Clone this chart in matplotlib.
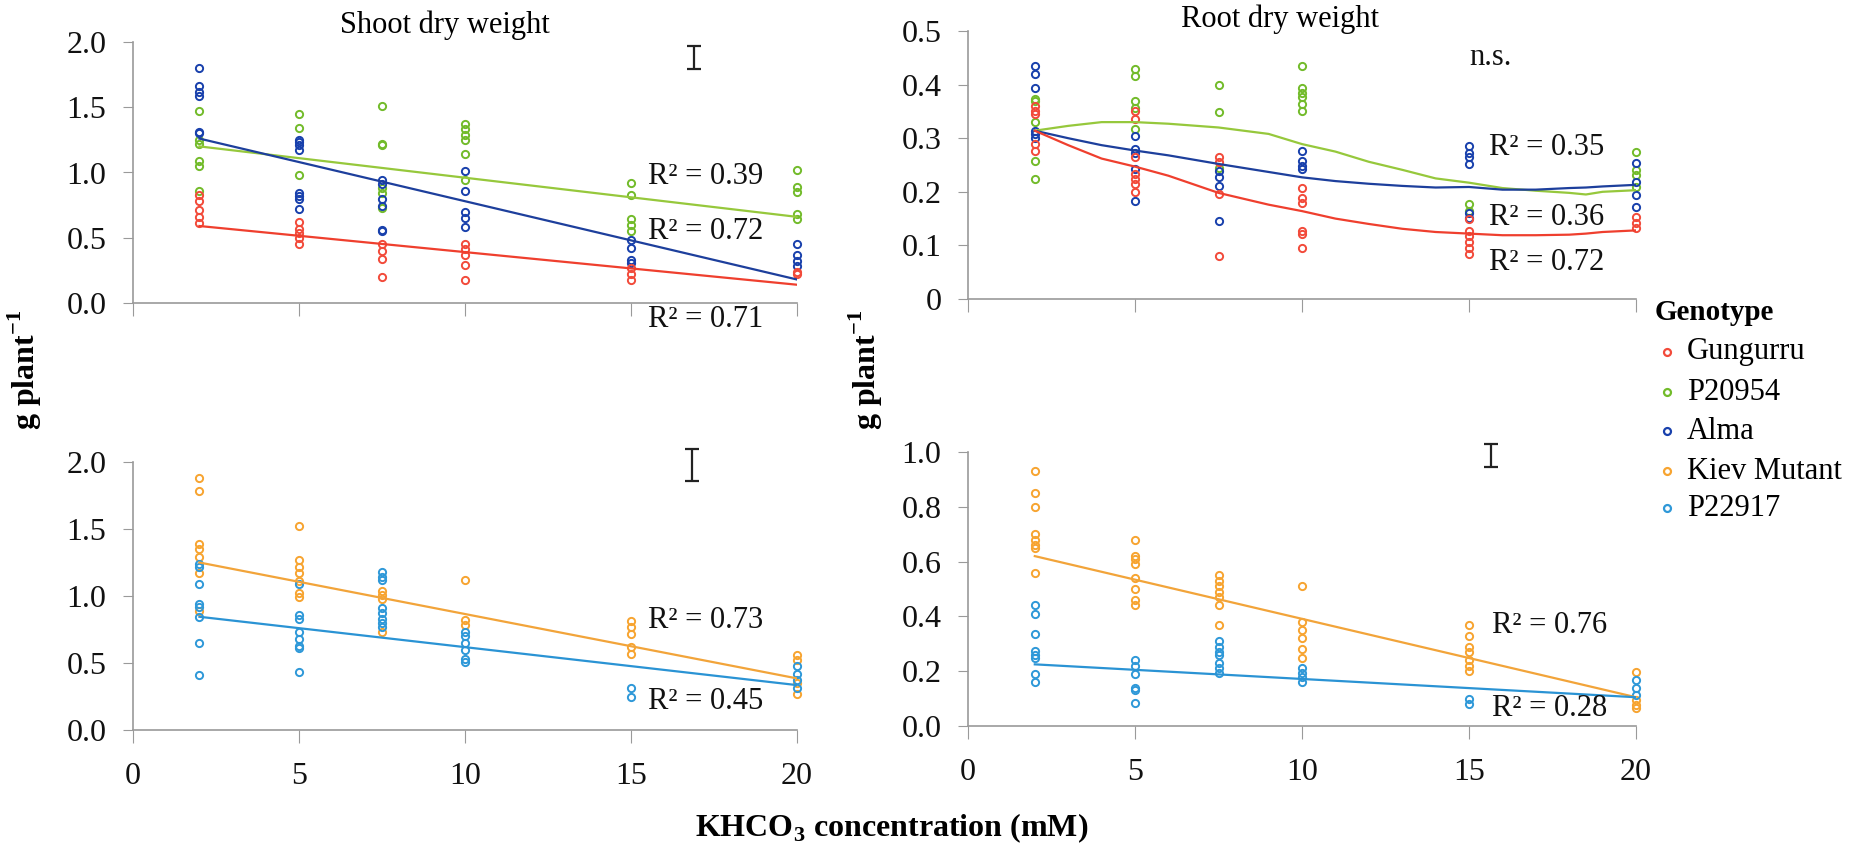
import matplotlib
matplotlib.use('Agg')
import matplotlib.pyplot as plt

plt.rcParams.update({
    'font.family': 'Liberation Serif',
    'mathtext.fontset': 'custom',
    'mathtext.rm': 'Liberation Serif',
    'mathtext.bf': 'Liberation Serif:bold',
    'font.size': 22,
    'axes.linewidth': 1.2,
    'axes.edgecolor': '#9a9a9a',
    'xtick.color': '#9a9a9a',
    'ytick.color': '#9a9a9a',
    'xtick.labelcolor': '#111111',
    'ytick.labelcolor': '#111111',
    'xtick.labelsize': 23,
    'ytick.labelsize': 23,
    'xtick.direction': 'out',
    'ytick.direction': 'out',
    'xtick.major.size': 9,
    'ytick.major.size': 7,
})

conc = [2, 5, 7.5, 10, 15, 20]
fit_x = [2, 20]

# shoot dry weight, top panel (g per plant), one list per concentration
shoot_gungurru = [[0.83, 0.78, 0.71, 0.66, 0.61],
                  [0.62, 0.57, 0.54, 0.50, 0.45],
                  [0.45, 0.40, 0.34, 0.20],
                  [0.45, 0.41, 0.37, 0.29, 0.18],
                  [0.27, 0.22, 0.18],
                  [0.24, 0.22]]
shoot_p20954 = [[1.47, 1.25, 1.22, 1.09, 1.05, 0.855],
                [1.45, 1.34, 0.98],
                [1.51, 1.22, 1.21, 0.88, 0.84, 0.73],
                [1.37, 1.33, 1.29, 1.25, 1.14, 0.94],
                [0.92, 0.83, 0.64, 0.60, 0.55],
                [1.02, 0.89, 0.85, 0.68, 0.64]]
shoot_alma = [[1.80, 1.66, 1.62, 1.59, 1.31, 1.30],
              [1.25, 1.23, 1.21, 1.17, 0.84, 0.82, 0.80, 0.72],
              [0.94, 0.91, 0.80, 0.74, 0.56, 0.55],
              [1.01, 0.86, 0.70, 0.65, 0.58],
              [0.48, 0.42, 0.33, 0.31],
              [0.45, 0.37, 0.32, 0.28]]
shoot_gungurru_fit = [0.59, 0.14]
shoot_p20954_fit = [1.20, 0.66]
shoot_alma_fit = [1.26, 0.18]

# root dry weight, top panel
root_gungurru = [[0.36, 0.351, 0.345, 0.289, 0.276],
                 [0.35, 0.335, 0.264, 0.233, 0.224, 0.214, 0.20],
                 [0.264, 0.255, 0.196, 0.081],
                 [0.208, 0.189, 0.18, 0.127, 0.121, 0.096],
                 [0.149, 0.127, 0.118, 0.106, 0.096, 0.084],
                 [0.153, 0.142, 0.132]]
root_p20954 = [[0.373, 0.37, 0.33, 0.258, 0.224],
               [0.429, 0.416, 0.37, 0.357, 0.317],
               [0.40, 0.348, 0.245],
               [0.435, 0.394, 0.385, 0.376, 0.363, 0.351],
               [0.177, 0.165],
               [0.274, 0.241, 0.231, 0.209]]
root_alma = [[0.435, 0.42, 0.394, 0.314, 0.307, 0.30],
             [0.304, 0.28, 0.273, 0.242, 0.183],
             [0.239, 0.227, 0.211, 0.146],
             [0.276, 0.258, 0.248, 0.242],
             [0.286, 0.273, 0.264, 0.252, 0.161, 0.152],
             [0.254, 0.218, 0.194, 0.172]]
curve_x = [2, 3, 4, 5, 6, 7.5, 9, 10, 11, 12, 13, 14, 15, 16, 17, 18, 18.5, 19, 20]
root_gungurru_curve = [0.314, 0.287, 0.262, 0.247, 0.230, 0.198, 0.176, 0.164, 0.150, 0.140,
                       0.131, 0.125, 0.122, 0.119, 0.119, 0.120, 0.122, 0.125, 0.128]
root_p20954_curve = [0.314, 0.323, 0.330, 0.330, 0.327, 0.320, 0.308, 0.289, 0.275, 0.256,
                     0.241, 0.225, 0.217, 0.207, 0.202, 0.198, 0.195, 0.200, 0.203]
root_alma_curve = [0.314, 0.300, 0.287, 0.277, 0.268, 0.252, 0.237, 0.227, 0.220, 0.215,
                   0.211, 0.208, 0.209, 0.204, 0.204, 0.207, 0.208, 0.210, 0.213]

# bottom panels
shoot_kiev = [[1.88, 1.78, 1.39, 1.35, 1.29, 1.17, 0.89],
              [1.52, 1.27, 1.22, 1.17, 1.11, 1.02, 0.99],
              [1.04, 1.01, 0.98, 0.73],
              [1.12, 0.82, 0.78],
              [0.81, 0.77, 0.72, 0.62, 0.57],
              [0.56, 0.52, 0.35, 0.27]]
shoot_p22917 = [[1.24, 1.22, 1.09, 0.94, 0.92, 0.845, 0.65, 0.41],
                [1.09, 0.86, 0.83, 0.73, 0.68, 0.63, 0.61, 0.43],
                [1.18, 1.14, 1.12, 0.91, 0.87, 0.83, 0.80, 0.77],
                [0.73, 0.70, 0.65, 0.60, 0.53, 0.51],
                [0.31, 0.25],
                [0.48, 0.42, 0.37, 0.31]]
shoot_kiev_fit = [1.25, 0.385]
shoot_p22917_fit = [0.845, 0.335]

root_kiev = [[0.93, 0.85, 0.80, 0.70, 0.68, 0.66, 0.65, 0.56],
             [0.68, 0.62, 0.61, 0.59, 0.54, 0.50, 0.46, 0.44],
             [0.55, 0.53, 0.51, 0.49, 0.47, 0.44, 0.37],
             [0.51, 0.38, 0.35, 0.32, 0.28, 0.25],
             [0.37, 0.33, 0.29, 0.27, 0.24, 0.22, 0.20],
             [0.196, 0.095, 0.076, 0.065]]
root_p22917 = [[0.44, 0.41, 0.335, 0.275, 0.26, 0.25, 0.19, 0.16],
               [0.24, 0.22, 0.19, 0.14, 0.13, 0.085],
               [0.31, 0.29, 0.27, 0.26, 0.23, 0.21, 0.195],
               [0.21, 0.195, 0.18, 0.16],
               [0.10, 0.08],
               [0.167, 0.138, 0.113]]
root_kiev_fit = [0.62, 0.105]
root_p22917_fit = [0.225, 0.105]

genotypes = ['Gungurru', 'P20954', 'Alma', 'Kiev Mutant', 'P22917']
dot_colors = ['#f24a3a', '#72bb2a', '#1840ac', '#f7a430', '#2e98d8']
line_colors = ['#ef3f2e', '#96c83c', '#1d3f9c', '#f2a43a', '#2a93d4']

W, H = 1863, 846
fig = plt.figure(figsize=(W / 100, H / 100), dpi=100)


def box(left, bottom, right, top):
    return [left / W, 1 - bottom / H, (right - left) / W, (bottom - top) / H]


ax_tl = fig.add_axes(box(133, 303, 797, 42))
ax_tr = fig.add_axes(box(968, 299, 1636, 31))
ax_bl = fig.add_axes(box(133, 730, 797, 462))
ax_br = fig.add_axes(box(968, 726, 1636, 452))


def dots(ax, series, color):
    for xi, vals in zip(conc, series):
        ax.plot([xi] * len(vals), vals, 'o', ms=5.2, mfc='none', mec=color,
                mew=1.4, clip_on=False, zorder=3)


def style(ax, ymax, step, fmt, xlabels):
    ax.set_xlim(0, 20)
    ax.set_ylim(0, ymax)
    for s in ['top', 'right']:
        ax.spines[s].set_visible(False)
    ax.set_xticks([0, 5, 10, 15, 20])
    n = int(round(ymax / step))
    yt = [i * step for i in range(n + 1)]
    ax.set_yticks(yt)
    ax.set_yticklabels([fmt(v) for v in yt])
    if xlabels:
        ax.set_xticklabels(['0', '5', '10', '15', '20'])
    else:
        ax.set_xticklabels([])
    ax.tick_params(axis='x', pad=14)
    ax.tick_params(axis='y', pad=12)


def ibar(ax, x, lo, hi):
    ax.errorbar([x], [(lo + hi) / 2], yerr=[(hi - lo) / 2], color='#222222',
                elinewidth=1.6, capsize=5, capthick=1.6, clip_on=False)


def r2(ax, x, y, txt):
    ax.text(x, y, txt, fontsize=22, ha='left', va='center', color='#111111',
            clip_on=False, zorder=5)


# top left: shoot
dots(ax_tl, shoot_p20954, dot_colors[1])
dots(ax_tl, shoot_alma, dot_colors[2])
dots(ax_tl, shoot_gungurru, dot_colors[0])
ax_tl.plot(fit_x, shoot_p20954_fit, color=line_colors[1], lw=1.6, zorder=4)
ax_tl.plot(fit_x, shoot_alma_fit, color=line_colors[2], lw=1.6, zorder=4)
ax_tl.plot(fit_x, shoot_gungurru_fit, color=line_colors[0], lw=1.6, zorder=4)
style(ax_tl, 2.0, 0.5, lambda v: f'{v:.1f}', False)
ibar(ax_tl, 16.9, 1.79, 1.97)
r2(ax_tl, 15.5, 0.97, 'R² = 0.39')
r2(ax_tl, 15.5, 0.55, 'R² = 0.72')
r2(ax_tl, 15.5, -0.13, 'R² = 0.71')

# top right: root
dots(ax_tr, root_p20954, dot_colors[1])
dots(ax_tr, root_alma, dot_colors[2])
dots(ax_tr, root_gungurru, dot_colors[0])
ax_tr.plot(curve_x, root_p20954_curve, color=line_colors[1], lw=1.6, zorder=4)
ax_tr.plot(curve_x, root_alma_curve, color=line_colors[2], lw=1.6, zorder=4)
ax_tr.plot(curve_x, root_gungurru_curve, color=line_colors[0], lw=1.6, zorder=4)
style(ax_tr, 0.5, 0.1, lambda v: '0' if v == 0 else f'{v:.1f}', False)
ax_tr.text(15.0, 0.45, 'n.s.', fontsize=22, ha='left', va='center', color='#111111')
r2(ax_tr, 15.6, 0.283, 'R² = 0.35')
r2(ax_tr, 15.6, 0.152, 'R² = 0.36')
r2(ax_tr, 15.6, 0.068, 'R² = 0.72')

# bottom left: shoot
dots(ax_bl, shoot_kiev, dot_colors[3])
dots(ax_bl, shoot_p22917, dot_colors[4])
ax_bl.plot(fit_x, shoot_kiev_fit, color=line_colors[3], lw=1.6, zorder=4)
ax_bl.plot(fit_x, shoot_p22917_fit, color=line_colors[4], lw=1.6, zorder=4)
style(ax_bl, 2.0, 0.5, lambda v: f'{v:.1f}', True)
ibar(ax_bl, 16.85, 1.86, 2.1)
r2(ax_bl, 15.5, 0.82, 'R² = 0.73')
r2(ax_bl, 15.5, 0.21, 'R² = 0.45')

# bottom right: root
dots(ax_br, root_kiev, dot_colors[3])
dots(ax_br, root_p22917, dot_colors[4])
ax_br.plot(fit_x, root_kiev_fit, color=line_colors[3], lw=1.6, zorder=4)
ax_br.plot(fit_x, root_p22917_fit, color=line_colors[4], lw=1.6, zorder=4)
style(ax_br, 1.0, 0.2, lambda v: f'{v:.1f}', True)
ibar(ax_br, 15.65, 0.945, 1.03)
r2(ax_br, 15.7, 0.367, 'R² = 0.76')
r2(ax_br, 15.7, 0.065, 'R² = 0.28')

# titles and labels
fig.text(445 / W, 1 - 25 / H, 'Shoot dry weight', fontsize=22, ha='center', va='center')
fig.text(1280 / W, 1 - 19 / H, 'Root dry weight', fontsize=22, ha='center', va='center')
fig.text(892 / W, 1 - 828 / H, r'KHCO$_\mathbf{3}$ concentration (mM)', fontsize=23,
         fontweight='bold', ha='center', va='center')
for xpix in (25, 866):
    fig.text(xpix / W, 1 - 370 / H, r'g plant$^{\mathbf{-1}}$', fontsize=23,
             fontweight='bold', rotation=90, ha='center', va='center')

# legend
fig.text(1655 / W, 1 - 313 / H, 'Genotype', fontsize=21, fontweight='bold',
         ha='left', va='center')
leg_y = [352, 392, 431, 471, 508]
for name, col, yp in zip(genotypes, dot_colors, leg_y):
    fig.lines.append(plt.Line2D([1667 / W], [1 - yp / H], marker='o', ms=5, mfc='none',
                                mec=col, mew=1.6, transform=fig.transFigure))
    fig.text(1687 / W, 1 - yp / H, name, fontsize=22, ha='left', va='center')

fig.savefig('out.png', dpi=100)
